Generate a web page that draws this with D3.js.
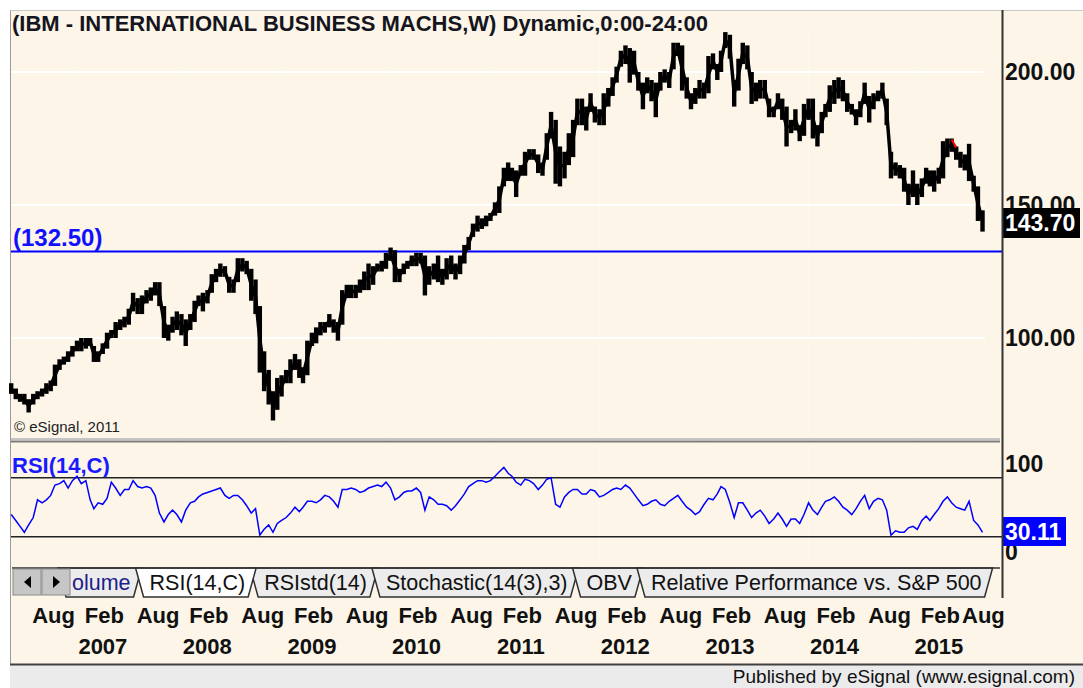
<!DOCTYPE html>
<html>
<head>
<meta charset="utf-8">
<script src="https://cdn.jsdelivr.net/npm/d3@7"></script>
<style>
  body { margin: 0; background: #fff; }
  svg { display: block; font-family: "Liberation Sans", Arial, sans-serif; }
</style>
</head>
<body>
<svg id="chart" width="1083" height="688"></svg>
<script>
const title = '(IBM - INTERNATIONAL BUSINESS MACHS,W) Dynamic,0:00-24:00'

// semi-monthly bars (1st and 16th), May 16 2006 .. Sep 1 2015
const firstBar = '2006-05-16'
const lastBar = '2015-09-01'

const priceLow = [
  79, 77, 76, 75, 72, 75, 77, 78, 79, 80, 82, 88, 90, 91, 93, // 2006
  95, 95, 96, 97, 91, 91, 94, 96, 100, 100, 103, 104, 105, 110, 109, 109, 113, 114, 116, 112, 100, 99, 102, 103, // 2007
  101, 97, 103, 106, 112, 110, 113, 117, 121, 123, 123, 117, 117, 121, 125, 124, 114, 109, 87, 80, 75, 69, 73, 78, // 2008
  83, 83, 88, 85, 83, 86, 97, 98, 101, 102, 104, 102, 99, 105, 115, 115, 115, 117, 118, 118, 120, 125, 125, 126, // 2009
  129, 121, 121, 124, 126, 127, 127, 128, 116, 120, 122, 121, 120, 122, 124, 122, 124, 128, 133, 138, 140, 141, 142, 144, // 2010
  146, 147, 157, 159, 159, 153, 161, 161, 167, 167, 162, 161, 167, 175, 158, 157, 160, 165, 168, 180, 180, 178, 185, 181, // 2011
  180, 180, 187, 191, 196, 202, 203, 196, 199, 193, 186, 192, 189, 183, 193, 196, 194, 201, 206, 193, 190, 186, 188, 190, // 2012
  190, 192, 201, 197, 200, 209, 205, 187, 193, 203, 201, 188, 189, 190, 190, 183, 183, 186, 182, 172, 177, 178, 174, 176, // 2013
  182, 175, 172, 177, 183, 185, 188, 190, 189, 185, 184, 180, 183, 188, 181, 186, 189, 190, 180, 160, 161, 160, 155, 150, // 2014
  153, 150, 153, 158, 157, 155, 158, 160, 168, 170, 167, 164, 163, 159, 155, 144, 140 // 2015
]
const priceHigh = [
  83, 81, 79, 79, 77, 79, 80, 81, 83, 84, 90, 92, 93, 95, 97,
  99, 100, 100, 100, 97, 95, 98, 102, 103, 106, 107, 108, 111, 117, 115, 116, 118, 119, 121, 121, 112, 105, 108, 110,
  109, 107, 109, 114, 116, 117, 118, 124, 126, 128, 127, 123, 122, 130, 130, 129, 126, 122, 112, 95, 88, 80, 85, 86,
  88, 92, 94, 92, 89, 99, 102, 104, 106, 106, 109, 107, 106, 118, 120, 120, 120, 122, 125, 128, 127, 128, 129, 132,
  134, 133, 126, 128, 129, 131, 132, 132, 131, 127, 128, 131, 126, 130, 131, 128, 131, 135, 138, 143, 146, 145, 146, 147,
  151, 157, 164, 166, 164, 163, 165, 170, 171, 171, 169, 166, 177, 185, 182, 172, 170, 177, 182, 190, 190, 187, 192, 187,
  186, 192, 194, 198, 202, 208, 210, 209, 208, 200, 196, 198, 197, 196, 200, 201, 200, 211, 211, 210, 198, 192, 194, 197,
  196, 206, 207, 203, 208, 215, 214, 197, 205, 211, 210, 200, 196, 197, 197, 190, 187, 192, 190, 187, 182, 186, 180, 188,
  190, 190, 180, 185, 188, 195, 197, 198, 197, 192, 188, 186, 189, 196, 191, 192, 193, 196, 190, 170, 166, 165, 164, 158,
  163, 158, 160, 164, 163, 163, 164, 174, 175, 175, 172, 170, 169, 173, 161, 157, 148
]
const rsi = [
  45, 41, 37, 33, 38, 43, 55, 53, 55, 58, 65, 66, 68, 63, 68,
  71, 66, 68, 55, 49, 53, 52, 56, 67, 63, 58, 62, 62, 68, 64, 63, 64, 63, 58, 46, 40, 45, 48, 45,
  40, 48, 53, 54, 57, 59, 60, 61, 62, 63, 58, 56, 58, 58, 55, 51, 46, 49, 31, 35, 38, 33, 39, 41,
  43, 46, 50, 47, 50, 54, 54, 53, 55, 58, 57, 54, 50, 62, 62, 63, 62, 60, 61, 63, 64, 65, 64, 67,
  63, 55, 57, 60, 61, 61, 63, 60, 48, 57, 55, 52, 52, 51, 48, 51, 55, 59, 64, 66, 68, 68, 67, 68,
  71, 74, 77, 73, 71, 67, 65, 69, 68, 66, 62, 65, 69, 70, 52, 50, 57, 60, 62, 62, 59, 59, 62, 61,
  57, 58, 60, 62, 63, 62, 65, 63, 59, 55, 51, 52, 54, 55, 52, 51, 54, 56, 58, 54, 50, 48, 45, 47,
  52, 56, 55, 59, 64, 62, 53, 43, 53, 53, 48, 43, 46, 48, 44, 39, 42, 46, 42, 37, 42, 42, 39, 45,
  53, 48, 45, 50, 54, 55, 57, 54, 50, 48, 45, 49, 54, 58, 49, 54, 56, 55, 48, 31, 34, 33, 33, 36,
  37, 35, 41, 44, 41, 45, 49, 54, 57, 53, 50, 49, 48, 54, 41, 38, 33
]
const redBars = ['2015-05-16', '2015-06-01']

const priceTicks = [200, 150, 100]
const levelLine = 132.5
const lastPrice = '143.70'
const rsiLevels = [70, 30]
const rsiLabels = ['100', '0']
const lastRsi = '30.11'

const tickMonths = ['Aug', 'Feb', 'Aug', 'Feb', 'Aug', 'Feb', 'Aug', 'Feb', 'Aug', 'Feb',
  'Aug', 'Feb', 'Aug', 'Feb', 'Aug', 'Feb', 'Aug', 'Feb', 'Aug']
const tickYears = ['2007', '2008', '2009', '2010', '2011', '2012', '2013', '2014', '2015']
const tabNames = ['olume', 'RSI(14,C)', 'RSIstd(14)', 'Stochastic(14(3),3)', 'OBV', 'Relative Performance vs. S&P 500']
const activeTab = 1

const parse = d3.timeParse('%Y-%m-%d')
const dates = []
d3.timeMonth.range(new Date(2006, 4, 1), new Date(2015, 8, 2)).forEach(m => {
  dates.push(m, d3.timeDay.offset(m, 15))
})
const barDates = dates.filter(d => d >= parse(firstBar) && d <= parse(lastBar))
const bars = barDates.map((d, i) => ({ date: d, lo: priceLow[i], hi: priceHigh[i], rsi: rsi[i] }))

const cream = '#fcf5e8'
const svg = d3.select('#chart')

const xScale = d3.scaleTime()
  .domain([new Date(2007, 0, 1), new Date(2015, 0, 1)])
  .range([77, 913])

const yScale = d3.scaleLinear()
  .domain([100, 200])
  .range([338, 72])

const rsiScale = d3.scaleLinear()
  .domain([30, 70])
  .range([536.7, 477.7])

// frame
svg.append('rect').attr('x', 10).attr('y', 10).attr('width', 1073).attr('height', 655).attr('fill', cream)
svg.append('line').attr('x1', 10.5).attr('x2', 10.5).attr('y1', 10).attr('y2', 665).attr('stroke', '#9a9a9a')
svg.append('line').attr('x1', 10).attr('x2', 1083).attr('y1', 10.5).attr('y2', 10.5).attr('stroke', '#c8c8c8')
svg.append('rect').attr('x', 10).attr('y', 665).attr('width', 1073).attr('height', 23).attr('fill', '#ebebeb')
svg.append('line').attr('x1', 10).attr('x2', 1083).attr('y1', 664.5).attr('y2', 664.5).attr('stroke', '#404040').attr('stroke-width', 2)

// grid
const years = d3.timeYear.range(new Date(2007, 0, 1), new Date(2015, 0, 2))
svg.append('g').selectAll('line').data(years).enter().append('line')
  .attr('x1', d => xScale(d)).attr('x2', d => xScale(d))
  .attr('y1', 34).attr('y2', 436)
  .attr('stroke', '#fff').attr('stroke-dasharray', '1,3')
svg.append('g').selectAll('line').data(years).enter().append('line')
  .attr('x1', d => xScale(d)).attr('x2', d => xScale(d))
  .attr('y1', 446).attr('y2', 566)
  .attr('stroke', '#fff').attr('stroke-dasharray', '1,3')
svg.append('g').selectAll('line').data(priceTicks).enter().append('line')
  .attr('x1', 11).attr('x2', 985)
  .attr('y1', d => yScale(d)).attr('y2', d => yScale(d))
  .attr('stroke', '#fff').attr('stroke-width', 2)

// title
svg.append('text').attr('x', 12).attr('y', 31)
  .attr('font-size', 22).attr('font-weight', 'bold').attr('fill', '#151520')
  .text(title)

// level line
svg.append('line').attr('x1', 11).attr('x2', 1002)
  .attr('y1', yScale(levelLine)).attr('y2', yScale(levelLine))
  .attr('stroke', '#0000ff').attr('stroke-width', 2)
svg.append('text').attr('x', 13).attr('y', yScale(levelLine) - 6)
  .attr('font-size', 24).attr('font-weight', 'bold').attr('fill', '#1010ff')
  .text('(' + levelLine.toFixed(2) + ')')

// price bars
svg.append('path').datum(bars)
  .attr('d', d3.line().x(d => xScale(d.date)).y(d => yScale((d.lo + d.hi) / 2)))
  .attr('stroke', '#000').attr('stroke-width', 3.5).attr('fill', 'none')
svg.append('g').selectAll('rect').data(bars).enter().append('rect')
  .attr('x', d => xScale(d.date) - 2.2)
  .attr('width', 4.4)
  .attr('y', d => yScale(d.hi))
  .attr('height', d => yScale(d.lo) - yScale(d.hi))
  .attr('fill', '#000')
const red = bars.filter(d => redBars.includes(d3.timeFormat('%Y-%m-%d')(d.date)))
svg.append('path').datum(red)
  .attr('d', d3.line().x(d => xScale(d.date)).y(d => yScale(d.hi) + 1))
  .attr('stroke', '#ff0000').attr('stroke-width', 2).attr('fill', 'none')

svg.append('text').attr('x', 14).attr('y', 432)
  .attr('font-size', 15).attr('fill', '#222')
  .text('\u00a9 eSignal, 2011')

// price axis labels (150.00 sits partly under the last price box, as in the source)
svg.append('defs').append('clipPath').attr('id', 'clip150')
  .append('rect').attr('x', 1002).attr('y', 0).attr('width', 81).attr('height', 208)
svg.append('g').selectAll('text').data(priceTicks).enter().append('text')
  .attr('x', 1005).attr('y', d => yScale(d) + 8)
  .attr('clip-path', d => d === 150 ? 'url(#clip150)' : null)
  .attr('font-size', 23).attr('font-weight', 'bold').attr('fill', '#111')
  .text(d => d.toFixed(2))
svg.append('rect').attr('x', 1002).attr('y', 208).attr('width', 78).attr('height', 30).attr('fill', '#000')
svg.append('text').attr('x', 1005).attr('y', 231)
  .attr('font-size', 23).attr('font-weight', 'bold').attr('fill', '#fff')
  .text(lastPrice)

// panel separator
svg.append('line').attr('x1', 11).attr('x2', 1000).attr('y1', 439).attr('y2', 439).attr('stroke', '#c4c4c4').attr('stroke-width', 2)
svg.append('line').attr('x1', 11).attr('x2', 1000).attr('y1', 441.5).attr('y2', 441.5).attr('stroke', '#7c7c7c').attr('stroke-width', 2)

// RSI panel
svg.append('text').attr('x', 12).attr('y', 473)
  .attr('font-size', 22).attr('font-weight', 'bold').attr('fill', '#1a1aff')
  .text('RSI(14,C)')
svg.append('g').selectAll('line').data(rsiLevels).enter().append('line')
  .attr('x1', 11).attr('x2', 1002)
  .attr('y1', d => rsiScale(d)).attr('y2', d => rsiScale(d))
  .attr('stroke', '#222').attr('stroke-width', 1.6)
svg.append('path').datum(bars)
  .attr('d', d3.line().x(d => xScale(d.date)).y(d => rsiScale(d.rsi)))
  .attr('stroke', '#0000ff').attr('stroke-width', 1.5).attr('fill', 'none')
svg.append('defs').append('clipPath').attr('id', 'clip0')
  .append('rect').attr('x', 1002).attr('y', 546).attr('width', 81).attr('height', 30)
svg.append('g').selectAll('text').data(rsiLabels).enter().append('text')
  .attr('x', 1005).attr('y', (d, i) => i === 0 ? 472 : 560)
  .attr('clip-path', (d, i) => i === 1 ? 'url(#clip0)' : null)
  .attr('font-size', 23).attr('font-weight', 'bold').attr('fill', '#111')
  .text(d => d)
svg.append('rect').attr('x', 1003).attr('y', 517).attr('width', 63).attr('height', 29).attr('fill', '#0000ff')
svg.append('text').attr('x', 1005).attr('y', rsiScale(rsi[rsi.length - 1]) + 8)
  .attr('font-size', 23).attr('font-weight', 'bold').attr('fill', '#fff')
  .text(lastRsi)

// right axis line
svg.append('line').attr('x1', 1002.5).attr('x2', 1002.5).attr('y1', 10).attr('y2', 598)
  .attr('stroke', '#333').attr('stroke-width', 2)

// tabs
const tabTop = 568
const tabBottom = 597
const tabFont = 21.5
const tabs = svg.append('g')
let left = 58
const tabPos = []
tabNames.forEach((name, i) => {
  const t = tabs.append('text').attr('font-size', tabFont).text(name)
  const w = t.node().getComputedTextLength()
  t.remove()
  tabPos.push({ name, left, right: left + w + 20, i })
  left = left + w + 19
})
const drawTab = d => {
  const g = tabs.append('g')
  g.append('polygon')
    .attr('points', [[d.left, tabTop], [d.right + 5, tabTop], [d.right - 3, tabBottom], [d.left + 8, tabBottom]].join(' '))
    .attr('fill', d.i === activeTab ? '#ffffff' : '#ececec')
    .attr('stroke', '#303030').attr('stroke-width', 1.5)
  g.append('text').attr('x', d.left + 14).attr('y', 590)
    .attr('font-size', tabFont).attr('fill', d.i === 0 ? '#20208a' : '#111')
    .text(d.name)
}
tabPos.filter(d => d.i !== activeTab).forEach(drawTab)
drawTab(tabPos[activeTab])
tabs.append('line').attr('x1', 12).attr('x2', 1000).attr('y1', tabTop).attr('y2', tabTop)
  .attr('stroke', '#303030').attr('stroke-width', 1.5)

// scroll buttons
;[13, 42].forEach((bx, i) => {
  svg.append('rect').attr('x', bx).attr('y', 569).attr('width', 28).attr('height', 26)
    .attr('fill', '#c6c6c6').attr('stroke', '#8a8a8a')
  const cx = bx + 14
  const pts = i === 0 ? [[cx + 4, 576], [cx + 4, 588], [cx - 3, 582]] : [[cx - 3, 576], [cx - 3, 588], [cx + 4, 582]]
  svg.append('polygon').attr('points', pts.join(' ')).attr('fill', '#000')
})

// x axis labels
const tickDates = tickMonths.map((m, i) => d3.timeMonth.offset(new Date(2006, 7, 1), 6 * i))
svg.append('g').selectAll('text').data(tickMonths).enter().append('text')
  .attr('x', (d, i) => Math.min(xScale(tickDates[i]) - 1, 962))
  .attr('y', 623)
  .attr('font-size', 22).attr('font-weight', 'bold').attr('fill', '#111')
  .text(d => d)
svg.append('g').selectAll('text').data(tickYears).enter().append('text')
  .attr('x', (d, i) => xScale(tickDates[2 * i + 1]) + 17)
  .attr('y', 654)
  .attr('text-anchor', 'middle')
  .attr('font-size', 22).attr('font-weight', 'bold').attr('fill', '#111')
  .text(d => d)

svg.append('text').attr('x', 1075).attr('y', 683)
  .attr('text-anchor', 'end')
  .attr('font-size', 19).attr('fill', '#111')
  .text('Published by eSignal (www.esignal.com)')
</script>
</body>
</html>
